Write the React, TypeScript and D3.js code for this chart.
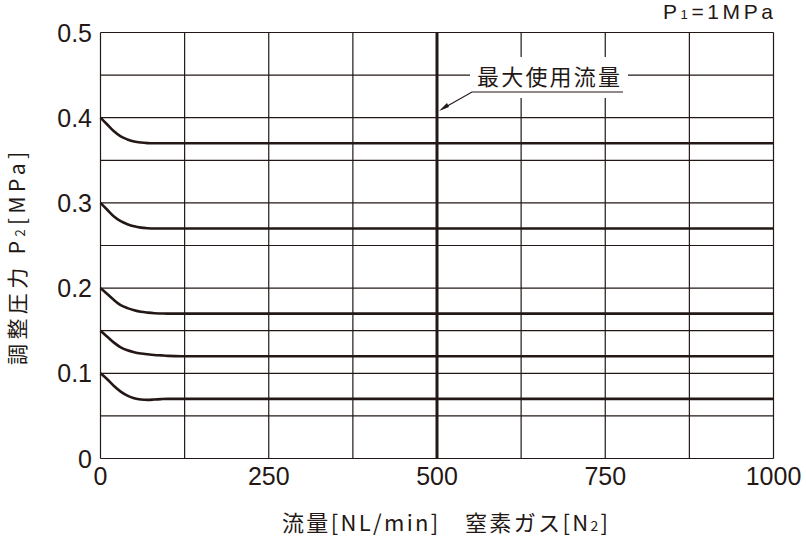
import React from "react";
import * as d3 from "d3";

const flows = [0, 10, 20, 30, 40, 50, 60, 70, 80, 90, 100, 120, 1000];
const curve040 = [0.4, 0.392, 0.384, 0.378, 0.3745, 0.372, 0.3708, 0.3702, 0.37, 0.37, 0.37, 0.37, 0.37];
const curve030 = [0.3, 0.292, 0.284, 0.2785, 0.275, 0.2725, 0.271, 0.2703, 0.27, 0.27, 0.27, 0.27, 0.27];
const curve020 = [0.2, 0.193, 0.186, 0.18, 0.1765, 0.174, 0.1722, 0.1712, 0.1705, 0.1702, 0.17, 0.17, 0.17];
const curve015 = [0.15, 0.143, 0.136, 0.1305, 0.127, 0.1248, 0.1233, 0.1223, 0.1215, 0.121, 0.1205, 0.12, 0.12];
const curve010 = [0.1, 0.093, 0.085, 0.0785, 0.0738, 0.0707, 0.0692, 0.0688, 0.0692, 0.0697, 0.07, 0.07, 0.07];
const seriesList = [curve040, curve030, curve020, curve015, curve010];

const xTicks = [0, 250, 500, 750, 1000];
const xGrid = [0, 125, 250, 375, 500, 625, 750, 875, 1000];
const yTicks = [0, 0.1, 0.2, 0.3, 0.4, 0.5];
const yGrid = [0, 0.05, 0.1, 0.15, 0.2, 0.25, 0.3, 0.35, 0.4, 0.45, 0.5];
const maxFlow = 500;

const C = "#231815";
const FONT = "'Liberation Sans', Arial, 'Noto Sans CJK JP', sans-serif";
const JFONT = "'Noto Sans CJK JP', 'Liberation Sans', sans-serif";

export default function App() {
  const W = 806, H = 539;
  const x = d3.scaleLinear().domain([0, 1000]).range([100.5, 773.5]);
  const y = d3.scaleLinear().domain([0, 0.5]).range([458.5, 32.5]);
  const line = d3
    .line<number>()
    .x((_, i) => x(flows[i]))
    .y((d) => y(d))
    .curve(d3.curveMonotoneX);

  return (
    <svg width={W} height={H} style={{ position: "absolute", left: 0, top: 0, background: "#fff" }}>
      <rect width={W} height={H} fill="#fff" />
      {/* grid */}
      {yGrid.map((v) => (
        <line key={"h" + v} x1={x(0)} x2={x(1000)} y1={y(v)} y2={y(v)} stroke={C} strokeWidth={1.2} />
      ))}
      {xGrid.map((v) => (
        <line key={"v" + v} x1={x(v)} x2={x(v)} y1={y(0)} y2={y(0.5)} stroke={C} strokeWidth={1.2} />
      ))}
      {/* annotation gap */}
      <rect x={470} y={57} width={158} height={41} fill="#fff" />
      {/* max flow line */}
      <line x1={x(maxFlow)} x2={x(maxFlow)} y1={y(0)} y2={y(0.5)} stroke={C} strokeWidth={3} />
      {/* curves */}
      {seriesList.map((s, i) => (
        <path key={i} d={line(s) || ""} fill="none" stroke={C} strokeWidth={2.6} />
      ))}
      {/* annotation */}
      <text x={477} y={85} textLength={143} lengthAdjust="spacing" fontFamily={JFONT} fontSize={22} fill={C}>
        最大使用流量
      </text>
      <polyline points={`623,92 472,92 442,109`} fill="none" stroke={C} strokeWidth={1.2} />
      <path d="M439,111 L447,103 L449,107 Z" fill={C} />
      {/* y tick labels */}
      {yTicks.map((v) => (
        <text key={"yl" + v} x={92} y={y(v)} dy="0.36em" textAnchor="end" fontFamily={FONT} fontSize={25} fill={C}>
          {v === 0 ? "0" : v.toFixed(1)}
        </text>
      ))}
      {/* x tick labels */}
      {xTicks.map((v) => (
        <text key={"xl" + v} x={x(v)} y={485} textAnchor="middle" fontFamily={FONT} fontSize={25} fill={C}>
          {v}
        </text>
      ))}
      {/* P1 label */}
      <text x={663} y={19} textLength={110} lengthAdjust="spacing" fontFamily={FONT} fontSize={21} fill={C}>
        P<tspan fontSize={13}>1</tspan>=1MPa
      </text>
      {/* x axis title */}
      <text x={282} y={531} textLength={326} lengthAdjust="spacing" fontFamily={JFONT} fontSize={22} fill={C}>
        流量[NL/min]　窒素ガス[N<tspan fontSize={14}>2</tspan>]
      </text>
      {/* y axis title */}
      <text
        transform="translate(24.5,365) rotate(-90)"
        textLength={213}
        lengthAdjust="spacing"
        fontFamily={JFONT}
        fontSize={21}
        fill={C}
      >
        調整圧力 P<tspan fontSize={13}>2</tspan>[MPa]
      </text>
    </svg>
  );
}
